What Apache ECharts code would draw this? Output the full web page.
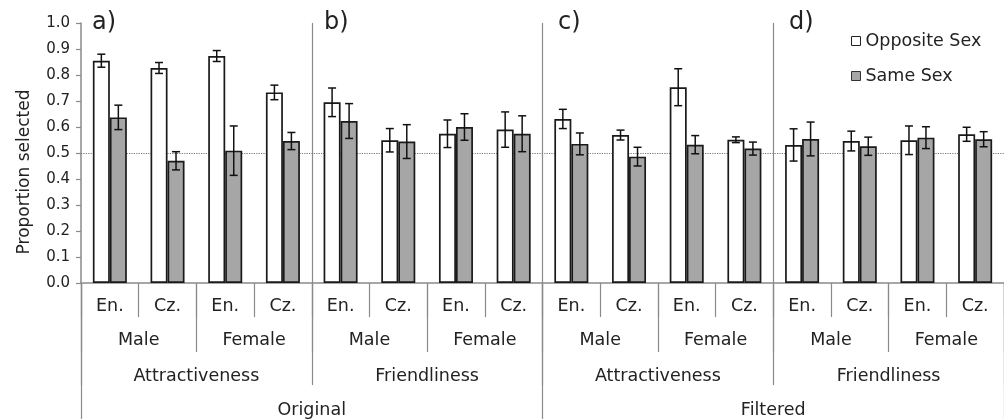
<!DOCTYPE html>
<html><head><meta charset="utf-8">
<script src="https://cdn.jsdelivr.net/npm/echarts@6/dist/echarts.min.js"></script>
<style>html,body{margin:0;padding:0;background:#fff}#c{width:1004px;height:419px}</style>
</head><body><div id="c"></div>
<script>
// ---- data ----
const languages = ['En.','Cz.','En.','Cz.','En.','Cz.','En.','Cz.','En.','Cz.','En.','Cz.','En.','Cz.','En.','Cz.'];
const sexes = ['Male','Female','Male','Female','Male','Female','Male','Female'];
const traits = ['Attractiveness','Friendliness','Attractiveness','Friendliness'];
const datasets = ['Original','Filtered'];
const panelLabels = ['a)','b)','c)','d)'];
const seriesNames = ['Opposite Sex','Same Sex'];
const oppositeSex    = [0.855,0.827,0.873,0.733, 0.695,0.549,0.574,0.590, 0.631,0.569,0.753,0.551, 0.531,0.546,0.549,0.572];
const oppositeSexErr = [0.025,0.021,0.021,0.028, 0.055,0.045,0.053,0.068, 0.037,0.019,0.071,0.011, 0.062,0.038,0.055,0.027];
const sameSex        = [0.637,0.470,0.509,0.546, 0.623,0.544,0.600,0.574, 0.535,0.486,0.532,0.517, 0.554,0.526,0.559,0.553];
const sameSexErr     = [0.047,0.035,0.095,0.033, 0.067,0.065,0.051,0.069, 0.042,0.036,0.035,0.025, 0.065,0.035,0.042,0.029];
const chanceLevel = 0.5;

// ---- styles ----
const FONT = 'DejaVu Sans';
const TXT = '#222';
const AX = '#8a8a8a';
const BAR_W = 17;
const GRAY = '#a6a6a6';
const EDGE = '#1a1a1a';

function errorSeries(values, errs, side) {
  return {
    type: 'custom', xAxisIndex: 0, yAxisIndex: 0, z: 4, silent: true,
    data: values.map((v, i) => [i, v - errs[i], v + errs[i]]),
    encode: { x: 0, y: [1, 2] },
    renderItem: function (params, api) {
      const i = api.value(0);
      const lo = api.coord([i, api.value(1)]);
      const hi = api.coord([i, api.value(2)]);
      const x = lo[0] + side * BAR_W / 2;
      const cap = 4;
      const st = { stroke: '#111', lineWidth: 1.5 };
      return { type: 'group', children: [
        { type: 'line', shape: { x1: x, y1: lo[1], x2: x, y2: hi[1] }, style: st },
        { type: 'line', shape: { x1: x - cap, y1: hi[1], x2: x + cap, y2: hi[1] }, style: st },
        { type: 'line', shape: { x1: x - cap, y1: lo[1], x2: x + cap, y2: lo[1] }, style: st }
      ]};
    }
  };
}

function levelAxis(data, tickLen, margin, split) {
  return {
    type: 'category', data: data, gridIndex: 0, position: 'bottom',
    axisLine: { show: false },
    axisTick: { show: true, interval: 0, length: tickLen, lineStyle: { color: AX, width: 1.2 } },
    axisLabel: { interval: 0, margin: margin, fontSize: 17.5, color: TXT, fontFamily: FONT },
    splitLine: split ? { show: true, interval: 0, showMinLine: false, showMaxLine: false, lineStyle: { color: AX, width: 1.2 } } : { show: false }
  };
}

const xAxes = [
  {
    type: 'category', data: languages, gridIndex: 0, position: 'bottom',
    axisLine: { show: true, onZero: false, lineStyle: { color: AX, width: 1.5 } },
    axisTick: { show: true, interval: 0, length: 34, lineStyle: { color: AX, width: 1.2 } },
    axisLabel: { interval: 0, margin: 14, fontSize: 17.5, color: TXT, fontFamily: FONT },
    splitLine: { show: false }
  },
  levelAxis(sexes, 69, 48, false),
  levelAxis(traits, 102, 84, true),
  levelAxis(datasets, 136, 118, false)
];

const option = {
  animation: false,
  backgroundColor: '#fff',
  textStyle: { fontFamily: FONT },
  title: panelLabels.map((t, i) => ({
    text: t, left: [92, 324, 558, 789][i], top: 11, padding: 0,
    textStyle: { fontSize: 24, fontWeight: 'normal', color: TXT, fontFamily: FONT }
  })),
  legend: {
    orient: 'vertical', left: 846, top: 26, itemWidth: 9, itemHeight: 9, itemGap: 15,
    icon: 'rect', selectedMode: false,
    textStyle: { fontSize: 17.5, color: TXT, fontFamily: FONT, lineHeight: 20 },
    data: [
      { name: seriesNames[0], itemStyle: { color: '#fff', borderColor: '#222', borderWidth: 1 } },
      { name: seriesNames[1], itemStyle: { color: GRAY, borderColor: '#333', borderWidth: 1 } }
    ]
  },
  grid: { left: 81, top: 23, width: 926, height: 260 },
  xAxis: xAxes,
  yAxis: {
    type: 'value', min: 0, max: 1, interval: 0.1,
    axisLine: { show: true, lineStyle: { color: AX, width: 1.5 } },
    axisTick: { show: true, length: 5, lineStyle: { color: AX, width: 1.2 } },
    axisLabel: { formatter: v => v.toFixed(1), fontSize: 15, margin: 11, color: TXT, fontFamily: FONT },
    splitLine: { show: false },
    name: 'Proportion selected', nameLocation: 'middle', nameRotate: 90, nameGap: 48,
    nameTextStyle: { fontSize: 17, color: TXT, fontFamily: FONT, padding: [0, 38, 0, 0] }
  },
  series: [
    {
      type: 'bar', name: seriesNames[0], data: oppositeSex, xAxisIndex: 0, barWidth: BAR_W, barGap: '0%', z: 3,
      emphasis: { disabled: true },
      itemStyle: { color: '#fff', borderColor: EDGE, borderWidth: 1.7 },
      markLine: {
        silent: true, symbol: 'none', z: 1, label: { show: false },
        lineStyle: { type: 'dotted', color: '#777', width: 1.2 },
        data: [{ yAxis: chanceLevel }]
      }
    },
    {
      type: 'bar', name: seriesNames[1], data: sameSex, xAxisIndex: 0, barWidth: BAR_W, barGap: '0%', z: 3,
      emphasis: { disabled: true },
      itemStyle: { color: GRAY, borderColor: EDGE, borderWidth: 1.7 }
    },
    errorSeries(oppositeSex, oppositeSexErr, -1),
    errorSeries(sameSex, sameSexErr, 1)
  ]
};

const chart = echarts.init(document.getElementById('c'), null, { renderer: 'canvas' });
chart.setOption(option);
</script>
</body></html>
